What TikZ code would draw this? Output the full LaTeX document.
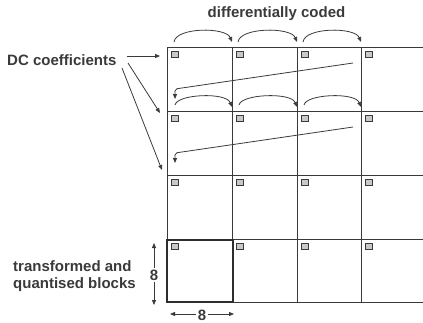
\documentclass[tikz,border=0pt]{standalone}
\usepackage{fontspec}
\setmainfont{Liberation Sans}
\usetikzlibrary{arrows.meta}
\definecolor{ink}{HTML}{3A3A3A}
\definecolor{sqfill}{HTML}{C8C8C8}
\begin{document}
\begin{tikzpicture}[x=1pt,y=-1pt,
  gridline/.style={draw=ink, line width=0.9pt},
  boldblock/.style={draw=ink!80!black, line width=2pt},
  dcbox/.style={draw=ink, fill=sqfill, line width=0.7pt, minimum size=6.5pt, inner sep=0pt},
  lbl/.style={font=\fontsize{15}{17.5}\selectfont\bfseries, text=ink, inner sep=0pt},
  conn/.style={draw=ink, line width=0.8pt, -{Triangle[length=5pt,width=4pt]}},
  dim/.style={draw=ink, line width=0.8pt, {Triangle[length=5pt,width=4pt]}-{Triangle[length=5pt,width=4pt]}}]
\useasboundingbox (0,0) rectangle (423,322);

% grid of 8x8 blocks (continues past the right edge)
\foreach \y in {47,111,175,239,302}
  \draw[gridline] (167,\y) -- (423,\y);
\foreach \x in {167,232,297,361}
  \draw[gridline] (\x,47) -- (\x,302);

% DC coefficient marker in the corner of each block
\foreach \x [count=\j] in {167,232,297,361}
  \foreach \y [count=\i] in {47,111,175,239}
    \node[dcbox] (dc-\i-\j) at (\x+8,\y+7.5) {};

% highlighted single block
\draw[boldblock] (167,240) rectangle (233,302);

% labels
\node[lbl, anchor=west] (dclabel) at (7,60) {DC coefficients};
\node[lbl] (difflabel) at (276.5,14) {differentially coded};
\node[lbl, anchor=west, align=left] (blocklabel) at (13,276) {transformed and\\quantised blocks};

% pointers from the DC label to the first block of each row
\coordinate (dcp1) at (127,56);
\coordinate (dcp2) at (128,63);
\coordinate (dcp3) at (122,68);
\coordinate (dct1) at (160,56);
\coordinate (dct2) at (160,113);
\coordinate (dct3) at (162,170);
\draw[conn] (dcp1) -- (dct1);
\draw[conn] (dcp2) -- (dct2);
\draw[conn] (dcp3) -- (dct3);

% differential coding chain along the first row
\coordinate (a1s) at (174,42);  \coordinate (a1e) at (232,42);
\coordinate (a2s) at (238,42);  \coordinate (a2e) at (297,42);
\coordinate (a3s) at (303,42);  \coordinate (a3e) at (361,42);
\draw[conn] (a1s) .. controls (176,27) and (226,27) .. (a1e);
\draw[conn] (a2s) .. controls (240,27) and (291,27) .. (a2e);
\draw[conn] (a3s) .. controls (305,27) and (355,27) .. (a3e);

% return from end of row 1 to start of row 2
\coordinate (r1s) at (353,63);
\coordinate (r1k) at (175,89);
\coordinate (r1e) at (175,99);
\draw[conn, rounded corners=2pt] (r1s) -- (r1k) -- (r1e);

% chain along the second row
\coordinate (b1s) at (175,105);  \coordinate (b1e) at (232,107);
\coordinate (b2s) at (239,105);  \coordinate (b2e) at (297,107);
\coordinate (b3s) at (304,105);  \coordinate (b3e) at (361,107);
\draw[conn] (b1s) .. controls (177,94) and (226,92) .. (b1e);
\draw[conn] (b2s) .. controls (241,94) and (291,92) .. (b2e);
\draw[conn] (b3s) .. controls (306,94) and (355,92) .. (b3e);

% return from end of row 2 to start of row 3
\coordinate (r2s) at (353,127);
\coordinate (r2k) at (175,153);
\coordinate (r2e) at (175,163);
\draw[conn, rounded corners=2pt] (r2s) -- (r2k) -- (r2e);

% block size dimensions
\coordinate (vt) at (154,243);
\coordinate (vb) at (154,305);
\draw[dim] (vt) -- (vb);
\node[lbl, fill=white, inner sep=1.5pt] (vlabel) at (154,275) {8};
\coordinate (hl) at (170,314);
\coordinate (hr) at (234,314);
\draw[dim] (hl) -- (hr);
\node[lbl, fill=white, inner sep=1.5pt] (hlabel) at (202,315) {8};
\end{tikzpicture}
\end{document}
